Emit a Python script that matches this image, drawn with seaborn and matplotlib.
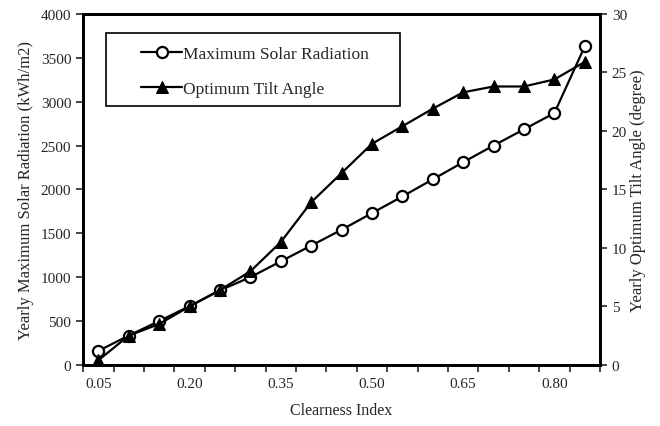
import matplotlib
matplotlib.use('Agg')
import matplotlib.pyplot as plt
from matplotlib.patches import Rectangle
import seaborn as sns
import pandas as pd

sns.set_style('white')
plt.rcParams['font.family'] = ['Liberation Serif', 'DejaVu Serif']

# ---- data ----
clearness = ['0.05', '0.10', '0.15', '0.20', '0.25', '0.30', '0.35', '0.40', '0.45',
             '0.50', '0.55', '0.60', '0.65', '0.70', '0.75', '0.80', '0.85']
radiation = [160, 335, 500, 670, 850, 1000, 1180, 1360, 1540,
             1730, 1920, 2115, 2310, 2500, 2685, 2870, 3630]
tilt = [0.4, 2.5, 3.5, 5.0, 6.4, 8.0, 10.5, 13.9, 16.4,
        18.9, 20.4, 21.9, 23.3, 23.8, 23.8, 24.4, 25.9]
shown_labels = ['0.05', '0.20', '0.35', '0.50', '0.65', '0.80']

df = pd.DataFrame({'pos': range(len(clearness)), 'radiation': radiation, 'tilt': tilt})

fig = plt.figure(figsize=(6.6, 4.27), dpi=100)
ax = fig.add_axes([0.126, 0.143, 0.783, 0.822])
ax2 = ax.twinx()

sns.lineplot(data=df, x='pos', y='radiation', ax=ax, color='black', lw=1.6,
             marker='o', markersize=8, markerfacecolor='white',
             markeredgecolor='black', markeredgewidth=1.6,
             label='Maximum Solar Radiation', legend=False)
sns.lineplot(data=df, x='pos', y='tilt', ax=ax2, color='black', lw=1.6,
             marker='^', markersize=9, markerfacecolor='black',
             markeredgecolor='black', label='Optimum Tilt Angle', legend=False)

# category axis, ticks between categories
n = len(clearness)
ax.set_xlim(-0.5, n - 0.5)
ax.set_xticks([i - 0.5 for i in range(n + 1)])
ax.set_xticklabels([])
ax.set_xticks([clearness.index(c) for c in shown_labels], minor=True)
ax.set_xticklabels(shown_labels, minor=True)
ax.tick_params(axis='x', which='minor', length=0, pad=9, labelsize=11)
ax.tick_params(axis='x', which='major', length=5, width=1.2, direction='out', bottom=True)

ax.set_ylim(0, 4000)
ax.set_yticks(range(0, 4001, 500))
ax2.set_ylim(0, 30)
ax2.set_yticks(range(0, 31, 5))
ax.tick_params(axis='y', length=5, width=1.2, direction='out', labelsize=11, left=True)
ax2.tick_params(axis='y', length=5, width=1.2, direction='out', labelsize=11, right=True)

ax.set_xlabel('Clearness Index', fontsize=11.5, labelpad=8)
ax.set_ylabel('Yearly Maximum Solar Radiation (kWh/m2)', fontsize=12, labelpad=5)
ax2.set_ylabel('Yearly Optimum Tilt Angle (degree)', fontsize=12, labelpad=2)
ax2.set_xlabel('')

for a in (ax, ax2):
    for s in a.spines.values():
        s.set_color('black')
        s.set_linewidth(2)

# legend box drawn separately (wide left padding like the original)
ax2.add_patch(Rectangle((0.0445, 0.738), 0.569, 0.208, transform=ax2.transAxes,
                        facecolor='white', edgecolor='black', lw=1.2, zorder=5))
h1, l1 = ax.get_legend_handles_labels()
h2, l2 = ax2.get_legend_handles_labels()
leg = ax2.legend(h1 + h2, l1 + l2, loc='upper left', bbox_to_anchor=(0.112, 0.910),
                 frameon=False, fontsize=12.5, borderpad=0, labelspacing=1.12,
                 handlelength=2.36, handletextpad=0.05, borderaxespad=0)
leg.set_zorder(6)

fig.savefig('out.png', dpi=100)
